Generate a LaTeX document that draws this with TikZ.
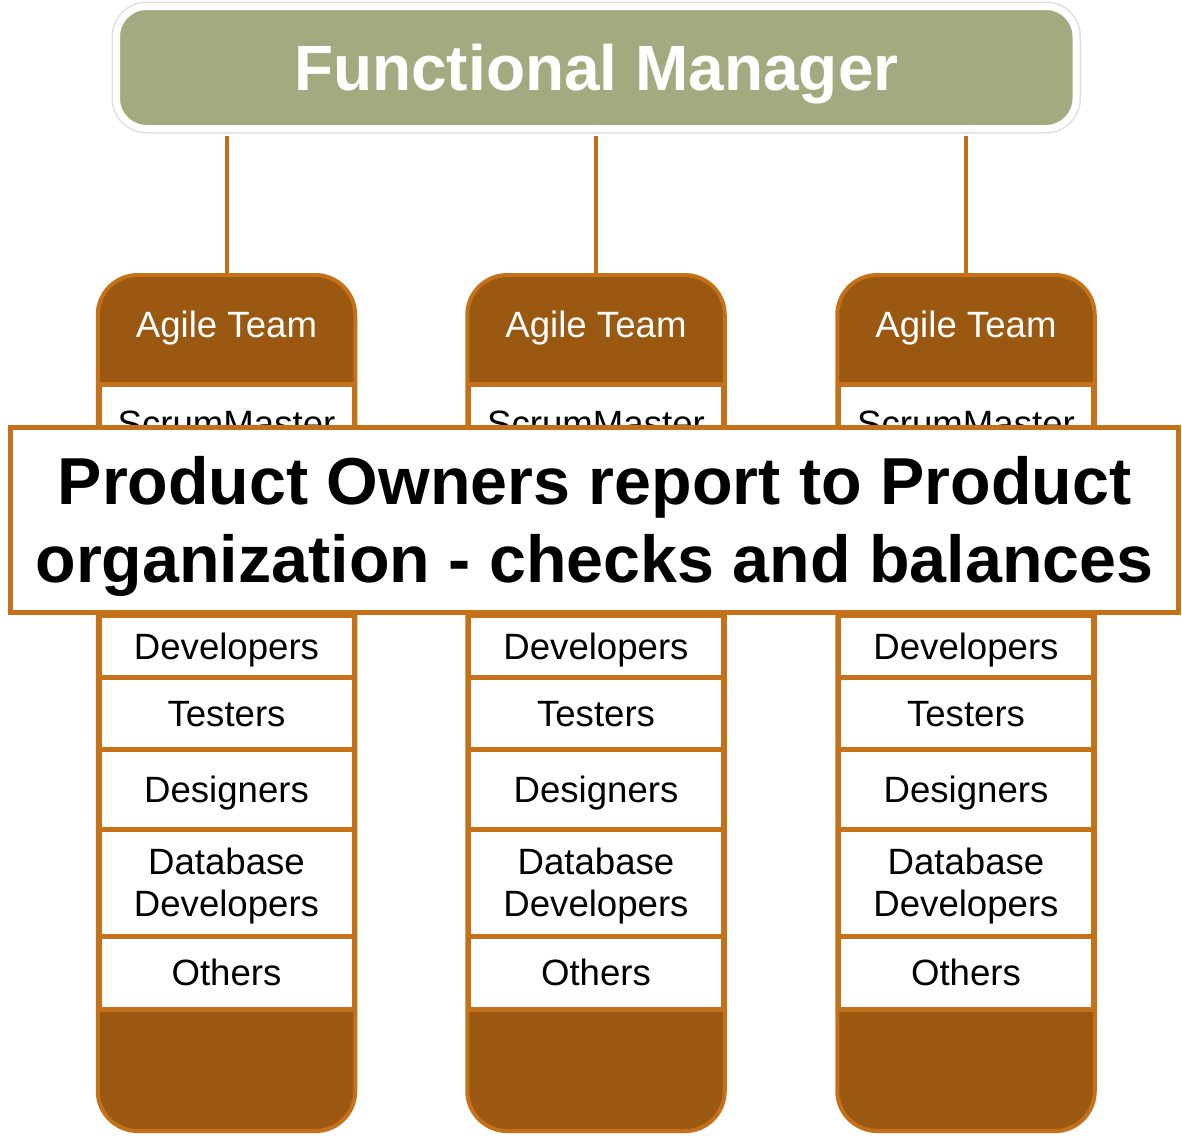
\documentclass[tikz,border=0pt]{standalone}
\usepackage{fontspec}
\setmainfont{Liberation Sans}
\usetikzlibrary{shadows}
\definecolor{fmgreen}{HTML}{A4AA80}
\definecolor{teambrown}{HTML}{9B5811}
\definecolor{teamorange}{HTML}{C4711A}
\definecolor{connorange}{HTML}{C06E19}
\begin{document}
\begin{tikzpicture}[x=0.5pt,y=-0.5pt,
  fmbox/.style={draw=white, line width=3.5pt, fill=fmgreen, rounded corners=15pt,
    preaction={draw=black!13, line width=5pt},
    minimum width=479.75pt, minimum height=61pt, inner sep=0pt, text=white,
    font=\bfseries\fontsize{32}{38}\selectfont, text height=22.9pt, text depth=0pt,
    drop shadow={opacity=0.2, shadow xshift=0.6pt, shadow yshift=-1.2pt}},
  teambox/.style={draw=teamorange, line width=2pt, fill=teambrown, rounded corners=20pt,
    minimum width=128.75pt, minimum height=428pt, inner sep=0pt,
    drop shadow={opacity=0.25, shadow xshift=0.6pt, shadow yshift=-1.2pt}},
  teamlabel/.style={text=white, font=\fontsize{18.3}{22}\selectfont, inner sep=0pt,
    text height=13.1pt, text depth=0pt},
  cell/.style={draw=teamorange, line width=2.5pt, fill=white, minimum width=127.5pt,
    inner sep=0pt, align=center, font=\fontsize{18.3}{21}\selectfont,
    text height=13.1pt, text depth=0pt},
  twoline/.style={text height=34.1pt, text depth=0pt},
  banner/.style={draw=teamorange, line width=2.5pt, fill=white, minimum width=584pt,
    minimum height=92.5pt, inner sep=0pt, align=center,
    font=\bfseries\fontsize{33.2}{39}\selectfont, text height=62.8pt, text depth=0pt,
    drop shadow={opacity=0.3, shadow xshift=1pt, shadow yshift=-1.2pt}},
  conn/.style={draw=connorange, line width=2pt}
]
\useasboundingbox (0,0) rectangle (1182,1140);

% functional manager
\node[fmbox] (fm) at (596.25,67.5) {Functional Manager};

% teams (columns)
\foreach \c/\x in {A/226.5, B/596, C/966} {
  \node[teambox] (team\c) at (\x,703) {};
}
% connectors
\foreach \c in {A,B,C} {
  \draw[conn] (team\c.north |- fm.south) ++(0,3.5) -- (team\c.north);
}

\foreach \c/\x in {A/226.5, B/596, C/966} {
  \node[teamlabel] (label\c) at (\x,324) {Agile Team};
  \node[cell, minimum height=38.5pt] (sm\c) at (\x,423) {ScrumMaster};
  \node[cell, minimum height=31pt] (dev\c) at (\x,646) {Developers};
  \node[cell, minimum height=36.25pt] (test\c) at (\x,713.25) {Testers};
  \node[cell, minimum height=39.75pt] (des\c) at (\x,789.25) {Designers};
  \node[cell, twoline, minimum height=53.5pt] (db\c) at (\x,882.5) {Database\\Developers};
  \node[cell, minimum height=36.75pt] (oth\c) at (\x,972.75) {Others};
}

% banner
\node[banner] (ban) at (594.5,520) {Product Owners report to Product\\organization - checks and balances};
\end{tikzpicture}
\end{document}
